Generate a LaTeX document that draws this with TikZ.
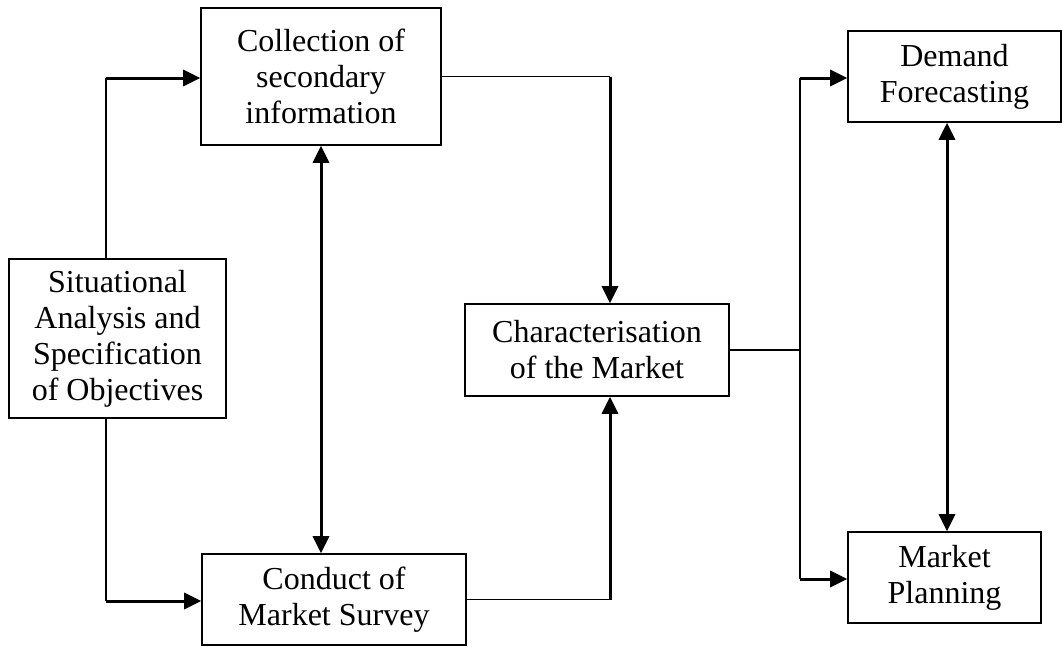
\documentclass[tikz,border=0pt]{standalone}
\usepackage{fontspec}
\setmainfont{Liberation Serif}
\usetikzlibrary{arrows.meta}

\begin{document}
\begin{tikzpicture}[
		x=1pt, y=-1pt,
		box/.style={rectangle, draw, line width=1.6pt, align=center, inner sep=0pt,
			font=\fontsize{32}{36}\selectfont},
		link/.style={line width=1.8pt},
		flow/.style={line width=3pt, -{Triangle[length=17pt, width=16pt]}},
		both/.style={line width=3pt, {Triangle[length=17pt, width=16pt]}-{Triangle[length=17pt, width=16pt]}}
	]
  \useasboundingbox (0,0) rectangle (1062,646);
  \node (sit) [box, minimum width=217pt, minimum height=159pt] at (117.5,338.5) {Situational\\Analysis and\\Specification\\of Objectives};
  \node (coll) [box, minimum width=240pt, minimum height=137pt] at (321,76.5) {Collection of\\secondary\\information};
  \node (cond) [box, minimum width=264pt, minimum height=91pt] at (334,599.5) {Conduct of\\Market Survey};
  \node (char) [box, minimum width=264pt, minimum height=92pt] at (597,350) {Characterisation\\of the Market};
  \node (dem) [box, minimum width=213pt, minimum height=91pt] at (954.5,76.5) {Demand\\Forecasting};
  \node (plan) [box, minimum width=193pt, minimum height=91pt] at (944.5,577.5) {Market\\Planning};
  \coordinate (up) at (106,78);
  \coordinate (down) at (106,601);
  \coordinate (in_top) at (610,76.5);
  \coordinate (in_bot) at (610,599.5);
  \coordinate (split) at (800,350);
  \coordinate (to_dem) at (800,78);
  \coordinate (to_plan) at (800,579);
  \coordinate (right_x) at (947,0);
  \draw[link] (sit.north -| up) -- (up);
  \draw[flow] (up) -- (up -| coll.west);
  \draw[link] (sit.south -| down) -- (down);
  \draw[flow] (down) -- (down -| cond.west);
  \draw[both] (coll.south) -- (coll.south |- cond.north);
  \draw[link] (coll.east) -- (in_top);
  \draw[flow] (in_top) -- (in_top |- char.north);
  \draw[link] (cond.east) -- (in_bot);
  \draw[flow] (in_bot) -- (in_bot |- char.south);
  \draw[link] (char.east) -- (split);
  \draw[link] (to_dem) -- (to_plan);
  \draw[flow] (to_dem) -- (to_dem -| dem.west);
  \draw[flow] (to_plan) -- (to_plan -| plan.west);
  \draw[both] (dem.south -| right_x) -- (plan.north -| right_x);
\end{tikzpicture}
\end{document}
